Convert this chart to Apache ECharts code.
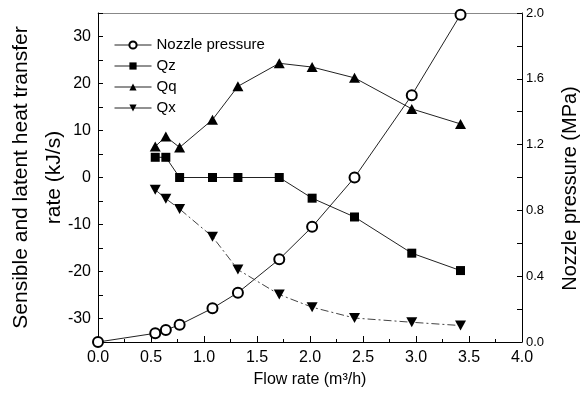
<!DOCTYPE html>
<html>
<head>
<meta charset="utf-8">
<script src="https://cdn.jsdelivr.net/npm/echarts@6/dist/echarts.min.js"></script>
<style>
  html, body { margin: 0; padding: 0; background: #fff; }
  #chart { width: 586px; height: 396px; }
</style>
</head>
<body>
<div id="chart"></div>
<script>
// Flow rate (m3/h) at which each test was run
const flowRates = [0.54, 0.64, 0.77, 1.08, 1.32, 1.71, 2.02, 2.42, 2.96, 3.42];
// Nozzle pressure (MPa) also has the zero-flow starting point
const pressureFlow = [0.0, 0.54, 0.64, 0.77, 1.08, 1.32, 1.71, 2.02, 2.42, 2.96, 3.42];
const nozzlePressure = [0.0, 0.053, 0.073, 0.105, 0.205, 0.30, 0.503, 0.70, 1.0, 1.5, 1.99];
// Heat transfer rates (kJ/s)
const qz = [4.3, 4.3, 0.0, 0.0, 0.0, 0.0, -4.4, -8.4, -16.1, -19.8];
const qq = [6.6, 8.7, 6.4, 12.3, 19.4, 24.3, 23.5, 21.2, 14.6, 11.4];
const qx = [-2.6, -4.5, -6.7, -12.6, -19.6, -24.9, -27.6, -29.9, -30.8, -31.5];

const FONT = "'Liberation Sans', Arial, sans-serif";

const pairs = (xs, ys) => xs.map((x, i) => [x, ys[i]]);

const chart = echarts.init(document.getElementById('chart'), null, { renderer: 'canvas' });

chart.setOption({
  animation: false,
  backgroundColor: '#fff',
  textStyle: { fontFamily: FONT, color: '#000' },
  grid: { left: 98, right: 64, top: 13, bottom: 54, containLabel: false, outerBoundsMode: 'none' },
  legend: {
    orient: 'vertical',
    left: 109,
    top: 32,
    itemWidth: 37,
    itemHeight: 9,
    itemGap: 5,
    itemStyle: { borderWidth: 1 },
    lineStyle: { type: 'solid', width: 1, color: '#222' },
    textStyle: { fontFamily: FONT, fontSize: 15, color: '#000', lineHeight: 16 },
    data: ['Nozzle pressure', 'Qz', 'Qq', 'Qx']
  },
  xAxis: [
    {
      type: 'value',
      min: 0,
      max: 4,
      interval: 0.5,
      name: 'Flow rate (m\u00b3/h)',
      nameLocation: 'middle',
      nameGap: 30,
      nameMoveOverlap: false,
      nameTextStyle: { fontFamily: FONT, fontSize: 16, color: '#000' },
      axisLine: { show: true, onZero: false, lineStyle: { color: '#000', width: 1 } },
      axisTick: { show: true, inside: true, length: 6, lineStyle: { color: '#000' } },
      minorTick: { show: true, splitNumber: 2, length: 3, lineStyle: { color: '#000' } },
      splitLine: { show: false },
      axisLabel: {
        fontFamily: FONT, fontSize: 16, color: '#000', margin: 8,
        formatter: v => v.toFixed(1)
      }
    },
    {
      type: 'value',
      position: 'top',
      min: 0,
      max: 4,
      axisLine: { show: true, onZero: false, lineStyle: { color: '#888', width: 1 } },
      axisTick: { show: false },
      axisLabel: { show: false },
      splitLine: { show: false }
    }
  ],
  yAxis: [
    {
      type: 'value',
      position: 'left',
      min: -35,
      max: 35,
      interval: 5,
      name: 'Sensible and latent heat transfer\nrate (kJ/s)',
      nameLocation: 'middle',
      nameRotate: 90,
      nameGap: 27,
      nameMoveOverlap: false,
      nameTextStyle: { fontFamily: FONT, fontSize: 21, color: '#000', lineHeight: 33 },
      axisLine: { show: true, onZero: false, lineStyle: { color: '#000', width: 1 } },
      axisTick: { show: true, inside: true, length: 5, lineStyle: { color: '#000' } },
      splitLine: { show: false },
      axisLabel: {
        fontFamily: FONT, fontSize: 16, color: '#000', margin: 7,
        formatter: v => (Math.round(v) % 10 === 0 && Math.abs(v) < 35 ? String(v) : '')
      }
    },
    {
      type: 'value',
      position: 'right',
      min: 0,
      max: 2,
      interval: 0.2,
      name: 'Nozzle pressure (MPa)',
      nameLocation: 'middle',
      nameRotate: 90,
      nameGap: 38,
      nameMoveOverlap: false,
      nameTextStyle: { fontFamily: FONT, fontSize: 20, color: '#000', padding: [0, 22, 0, 0] },
      axisLine: { show: true, onZero: false, lineStyle: { color: '#000', width: 1 } },
      axisTick: { show: true, inside: true, length: 5, lineStyle: { color: '#000' } },
      splitLine: { show: false },
      axisLabel: {
        fontFamily: FONT, fontSize: 13, color: '#000', margin: 4,
        formatter: v => (Math.round(v * 10) % 4 === 0 ? v.toFixed(1) : '')
      }
    }
  ],
  series: [
    {
      name: 'Nozzle pressure',
      type: 'line',
      yAxisIndex: 1,
      data: pairs(pressureFlow, nozzlePressure),
      symbol: 'emptyCircle',
      symbolSize: 10,
      showAllSymbol: true,
      lineStyle: { color: '#222', width: 1 },
      itemStyle: { color: '#000', borderColor: '#000', borderWidth: 1 },
      z: 2
    },
    {
      name: 'Qz',
      type: 'line',
      data: pairs(flowRates, qz),
      symbol: 'rect',
      symbolSize: 9,
      lineStyle: { color: '#222', width: 1 },
      itemStyle: { color: '#000' },
      z: 3
    },
    {
      name: 'Qq',
      type: 'line',
      data: pairs(flowRates, qq),
      symbol: 'triangle',
      symbolSize: [11, 10],
      lineStyle: { color: '#222', width: 1 },
      itemStyle: { color: '#000' },
      z: 3
    },
    {
      name: 'Qx',
      type: 'line',
      data: pairs(flowRates, qx),
      symbol: 'triangle',
      symbolRotate: 180,
      symbolSize: [11, 10],
      lineStyle: { color: '#444', width: 1, type: [8, 3, 2, 3] },
      itemStyle: { color: '#000' },
      z: 3
    }
  ]
});
</script>
</body>
</html>
